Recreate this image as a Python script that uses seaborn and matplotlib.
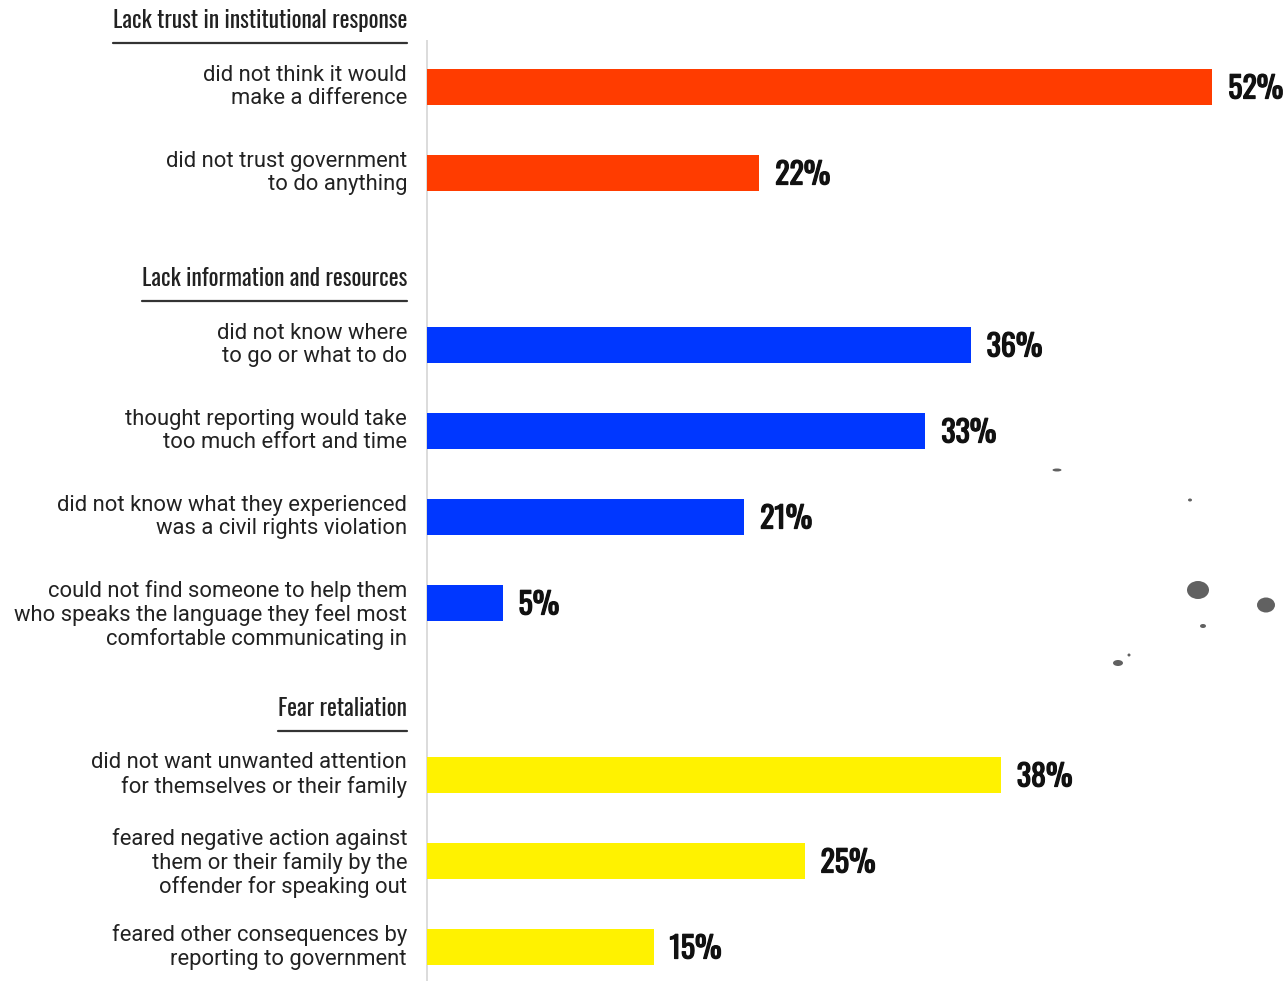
import matplotlib
matplotlib.use("Agg")
import matplotlib.pyplot as plt
from matplotlib import font_manager as fm
from matplotlib import patheffects as pe
from matplotlib.lines import Line2D
from matplotlib.patches import Ellipse
from matplotlib.transforms import IdentityTransform
import seaborn as sns
import pandas as pd

# ---- data -------------------------------------------------------------
groups = ["Lack trust in institutional response",
          "Lack information and resources",
          "Fear retaliation"]
labels = [
    "did not think it would\nmake a difference",
    "did not trust government\nto do anything",
    "did not know where\nto go or what to do",
    "thought reporting would take\ntoo much effort and time",
    "did not know what they experienced\nwas a civil rights violation",
    "could not find someone to help them\nwho speaks the language they feel most\ncomfortable communicating in",
    "did not want unwanted attention\nfor themselves or their family",
    "feared negative action against\nthem or their family by the\noffender for speaking out",
    "feared other consequences by\nreporting to government",
]
values = [52, 22, 36, 33, 21, 5, 38, 25, 15]
group_of = [0, 0, 1, 1, 1, 1, 2, 2, 2]
group_colors = ["#ff3c00", "#0037ff", "#fff200"]

# row slots: one empty slot before each group after the first
slots = [0, 1, 3, 4, 5, 6, 8, 9, 10]
# small vertical nudges (pixels) for individual category labels
label_nudge = [0, 0, 0, 0, 0, -12, 0, -2, 0]

df = pd.DataFrame({"slot": slots, "value": values,
                   "group": [groups[g] for g in group_of]})

# ---- fonts ------------------------------------------------------------
names = {f.name for f in fm.fontManager.ttflist}
body_font = "Roboto" if "Roboto" in names else "DejaVu Sans"
cond_font = "DejaVu Sans"
for cand in ["Oswald", "Bebas Neue", "Roboto Condensed",
             "Liberation Sans Narrow", "DejaVu Sans Condensed"]:
    if cand in names:
        cond_font = cand
        break

sns.set_theme(style="white")
plt.rcParams["font.family"] = [body_font, "DejaVu Sans"]

W, H = 1287, 981
fig = plt.figure(figsize=(W / 100, H / 100), dpi=100)
ax_left = 427 / W
ax = fig.add_axes([ax_left, 0, 1 - ax_left, 1])

sns.barplot(data=df, x="value", y="slot", hue="group", orient="h",
            native_scale=True, dodge=False, width=0.43,
            palette=dict(zip(groups, group_colors)), hue_order=groups,
            legend=False, saturation=1, linewidth=0, ax=ax)

px_per_unit = 15.1
ax.set_xlim(0, (W - 427) / px_per_unit)
ax.set_ylim((H - 87) / 86, -87 / 86)
ax.set_axis_off()

# thin vertical baseline
ax.plot([0, 0], [-0.55, (H - 87) / 86], color="#d6d6d6", lw=1.2,
        solid_capstyle="butt", clip_on=False, zorder=0)

bold_fx = [pe.withStroke(linewidth=0.9, foreground="#111111")]

# category labels and value labels
for s, lab, v, dy in zip(slots, labels, values, label_nudge):
    ax.annotate(lab, xy=(0, s), xytext=(-20, dy), textcoords="offset pixels",
                ha="right", va="center", multialignment="right",
                fontsize=15.8, color="#222222", family=[body_font, "DejaVu Sans"],
                linespacing=1.13, annotation_clip=False)
    ax.annotate(f"{v}%", xy=(v, s), xytext=(16, -2), textcoords="offset pixels",
                ha="left", va="center", fontsize=21.5, fontweight="bold",
                color="#111111", family=[cond_font, "DejaVu Sans"],
                fontstretch="condensed", path_effects=bold_fx,
                annotation_clip=False)

# group headers with underline
first_slots = [0, 3, 8]
header_texts = []
for g, s in zip(groups, first_slots):
    t = ax.annotate(g, xy=(0, s - 0.77), xytext=(-20, 0),
                    textcoords="offset pixels", ha="right", va="center",
                    fontsize=16.9, color="#222222",
                    family=[cond_font, "DejaVu Sans"], fontstretch="condensed",
                    annotation_clip=False)
    header_texts.append((t, s))

fig.canvas.draw()
renderer = fig.canvas.get_renderer()
for t, s in header_texts:
    bb = t.get_window_extent(renderer)
    y_line = ax.transData.transform((0, s - 0.51))[1]
    fig.add_artist(Line2D([bb.x0, bb.x1], [y_line, y_line],
                          transform=IdentityTransform(),
                          color="#333333", lw=1.6))

# small ink specks on the right side
specks = [(1057, 470, 9, 3), (1190, 500, 4, 3), (1198, 590, 22, 18),
          (1266, 605, 18, 15), (1203, 626, 6, 4), (1118, 663, 10, 6),
          (1129, 655, 3, 3)]
for x, y, w, h in specks:
    fig.add_artist(Ellipse((x, H - y), w, h, transform=IdentityTransform(),
                           facecolor="#3a3a3a", edgecolor="none", alpha=0.8))

fig.savefig("out.png", dpi=100)
